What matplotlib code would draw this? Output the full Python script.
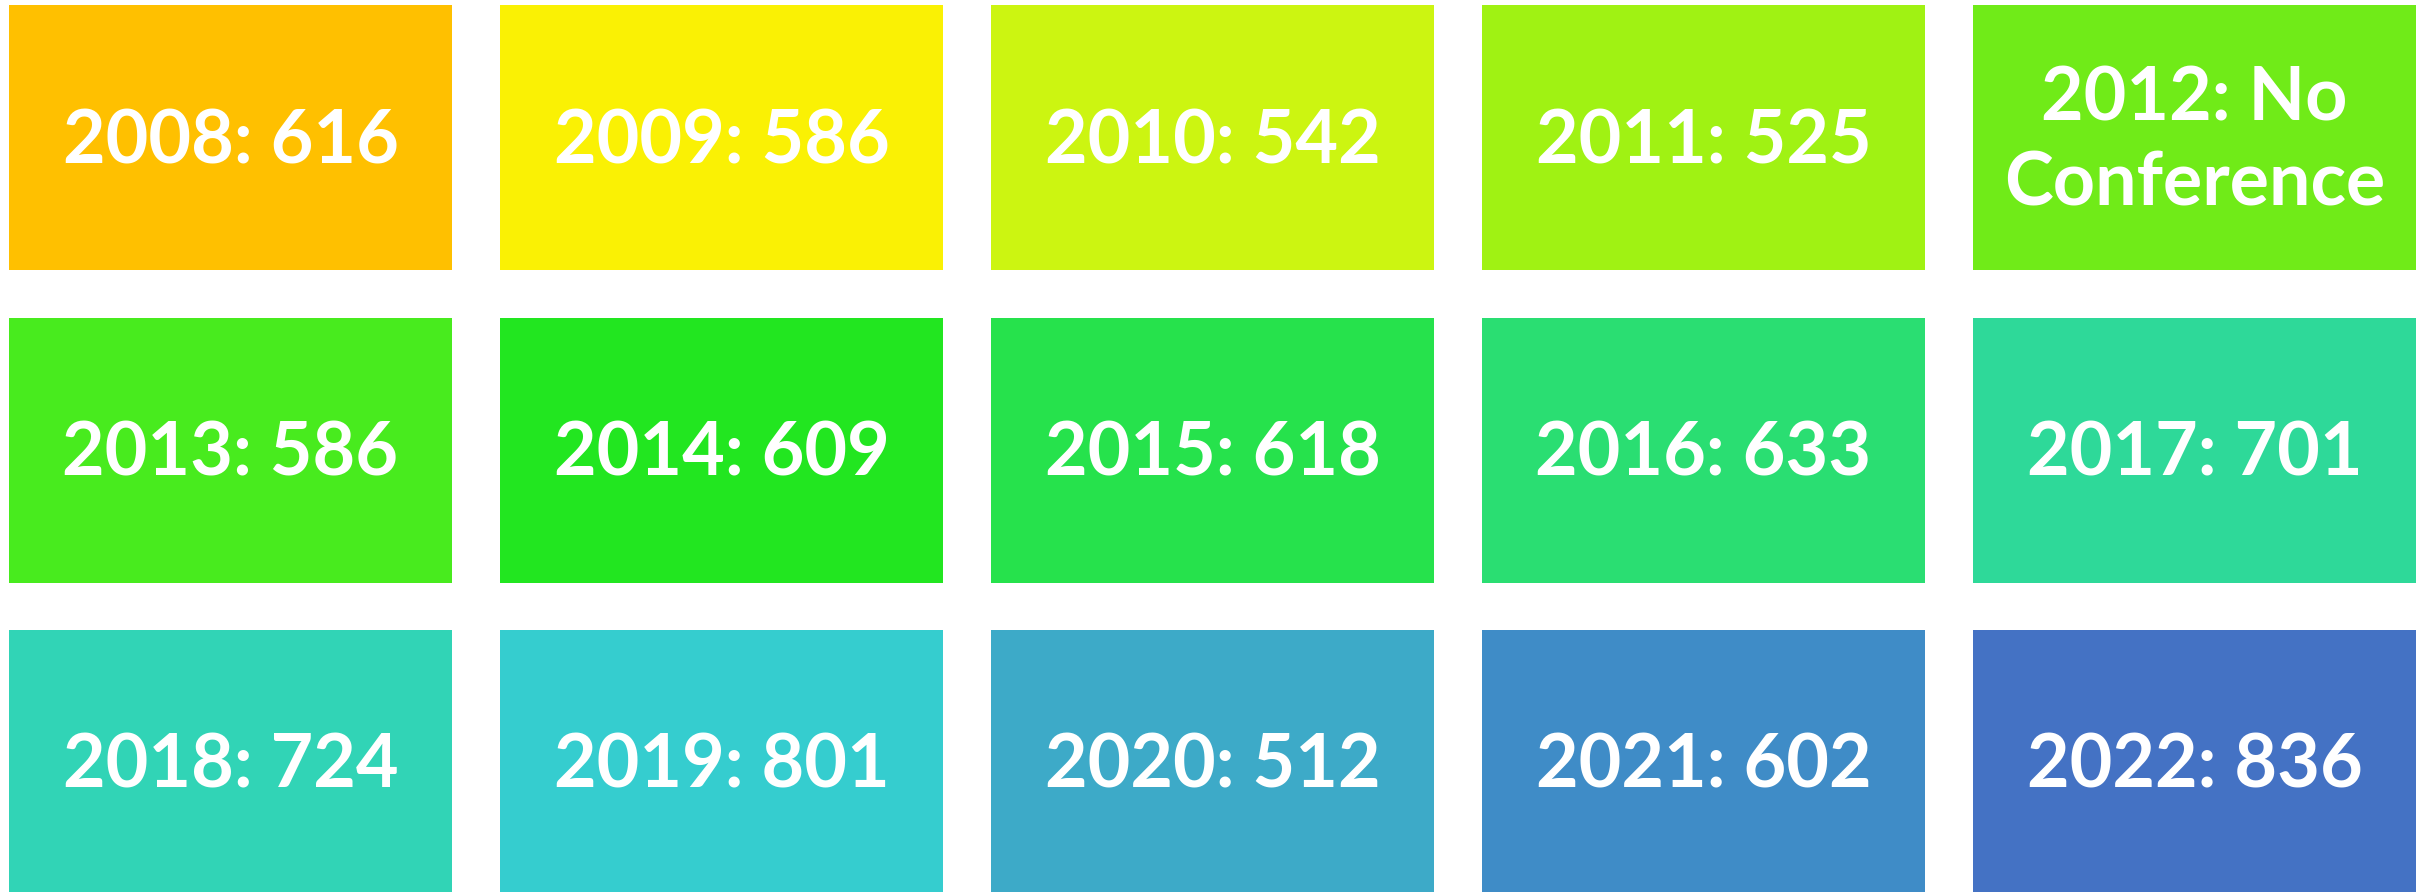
import matplotlib.pyplot as plt
from matplotlib.patches import Rectangle

# attendance per year (2012 had no conference)
years = [2008, 2009, 2010, 2011, 2012,
         2013, 2014, 2015, 2016, 2017,
         2018, 2019, 2020, 2021, 2022]
attendance = [616, 586, 542, 525, None,
              586, 609, 618, 633, 701,
              724, 801, 512, 602, 836]
colors = ['#FFC000', '#FAF104', '#CCF511', '#A0F213', '#70EB18',
          '#48EB1E', '#22E620', '#26E24C', '#2ADE72', '#2ED999',
          '#31D4B6', '#35CDCF', '#3DAAC8', '#3F8CC7', '#4472C4']

W, H = 2428, 892
n_cols = 5
box_w, box_h = 443, 265
step_x, step_y = 491, 312.5
x0, y0 = 9, 5

fig = plt.figure(figsize=(W / 100, H / 100), dpi=100)
ax = fig.add_axes([0, 0, 1, 1])
ax.set_xlim(0, W)
ax.set_ylim(H, 0)
ax.axis('off')

for i, (yr, val, c) in enumerate(zip(years, attendance, colors)):
    col, row = i % n_cols, i // n_cols
    left = x0 + col * step_x
    top = y0 + row * step_y
    ax.add_patch(Rectangle((left, top), box_w, box_h, facecolor=c, edgecolor='none'))
    label = f"{yr}: {val}" if val is not None else f"{yr}: No\nConference"
    ax.text(left + box_w / 2, top + box_h / 2 + 4, label,
            ha='center', va='center', color='white', fontsize=53,
            fontweight='bold', family=['Lato', 'DejaVu Sans'],
            linespacing=1.3)

fig.savefig('out.png', dpi=100)
